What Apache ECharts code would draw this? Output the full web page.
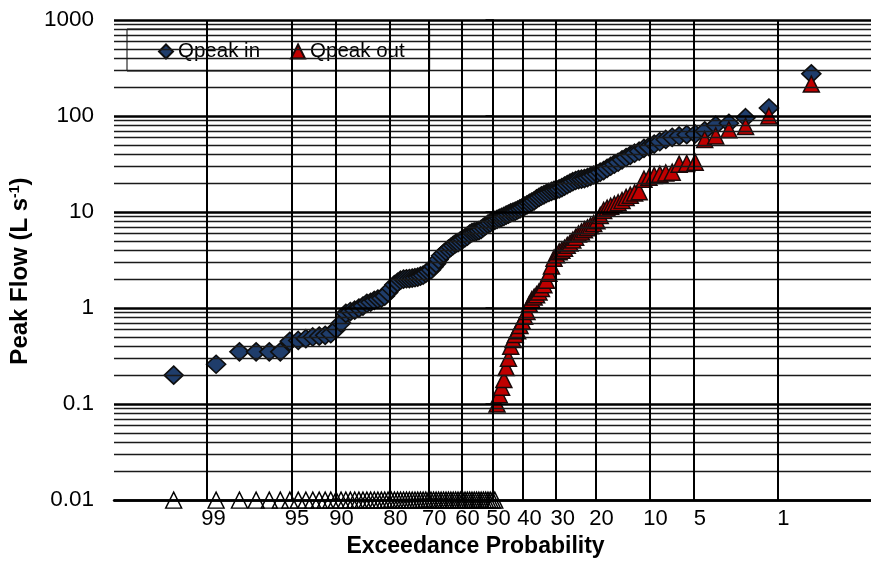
<!DOCTYPE html>
<html><head><meta charset="utf-8">
<script src="https://cdn.jsdelivr.net/npm/echarts@6/dist/echarts.min.js"></script>
<style>html,body{margin:0;padding:0;background:#fff}#c{width:871px;height:563px}</style>
</head><body><div id="c"></div>
<script>
// Peak flows (L s-1), sorted ascending (smallest first)
const qpeakIn = [
  0.20, 0.26, 0.35, 0.35, 0.35, 0.35, 0.45, 0.46, 0.48, 0.50,
  0.51, 0.52, 0.54, 0.60, 0.70, 0.88, 0.92, 0.95, 1.00, 1.05,
  1.12, 1.15, 1.20, 1.24, 1.27, 1.33, 1.45, 1.60, 1.75, 1.85,
  1.95, 2.00, 2.02, 2.03, 2.05, 2.07, 2.10, 2.15, 2.20, 2.30,
  2.40, 2.50, 2.70, 2.90, 3.20, 3.50, 3.70, 3.90, 4.10, 4.30,
  4.50, 4.70, 4.80, 5.00, 5.20, 5.40, 5.60, 5.90, 6.10, 6.20,
  6.30, 6.40, 6.60, 6.90, 7.20, 7.50, 7.70, 8.00, 8.20, 8.40,
  8.60, 8.80, 9.00, 9.30, 9.50, 9.80, 10.0, 10.2, 10.5, 10.8,
  11.1, 11.5, 11.9, 12.3, 12.7, 13.1, 13.7, 14.2, 14.7, 15.1,
  15.6, 16.0, 16.4, 16.8, 17.1, 17.4, 18.0, 18.6, 19.3, 20.0,
  20.7, 21.3, 21.8, 22.0, 22.3, 22.8, 23.5, 24.3, 25.0, 26.0,
  27.0, 28.5, 30.0, 31.5, 33.0, 35.0, 37.0, 39.0, 41.0, 43.0,
  46.0, 48.0, 51.0, 54.0, 57.0, 60.0, 62.0, 64.0, 65.0, 70.0,
  80.0, 84.0, 96.0, 121, 275
];
// zero outflow events (69) followed by non-zero outflows (66), ascending
const qpeakOutZeroCount = 69;
const qpeakOutNonZero = [
  0.10, 0.125, 0.15, 0.18, 0.24, 0.30, 0.40, 0.47, 0.53, 0.58,
  0.66, 0.73, 0.82, 0.92, 1.10, 1.22, 1.30, 1.38, 1.47, 1.60,
  1.75, 1.95, 2.30, 2.75, 3.30, 3.60, 3.85, 4.00, 4.20, 4.50,
  4.75, 5.10, 5.45, 5.90, 6.20, 6.55, 6.85, 7.20, 7.60, 8.10,
  9.20, 10.4, 11.0, 11.5, 12.0, 12.5, 13.2, 14.2, 15.0, 15.8,
  16.3, 22.0, 23.0, 24.0, 24.8, 25.5, 26.0, 31.5, 32.0, 33.0,
  57.0, 62.0, 72.0, 78.0, 100, 215
];
const qpeakOut = new Array(qpeakOutZeroCount).fill(0).concat(qpeakOutNonZero);

const probTicks = [99, 95, 90, 80, 70, 60, 50, 40, 30, 20, 10, 5, 1]; // exceedance %
const yMin = 0.01, yMax = 1000;
const minorFactors = [2, 3, 4, 5, 6, 7, 8, 9];
const FONT = "'Liberation Sans', Arial, sans-serif";

function normInv(p) {
  const a=[-3.969683028665376e+01,2.209460984245205e+02,-2.759285104469687e+02,1.383577518672690e+02,-3.066479806614716e+01,2.506628277459239e+00];
  const b=[-5.447609879822406e+01,1.615858368580409e+02,-1.556989798598866e+02,6.680131188771972e+01,-1.328068155288572e+01];
  const c=[-7.784894002430293e-03,-3.223964580411365e-01,-2.400758277161838e+00,-2.549732539343734e+00,4.374664141464968e+00,2.938163982698783e+00];
  const d=[7.784695709041462e-03,3.224671290700398e-01,2.445134137142996e+00,3.754408661907416e+00];
  const pl = 0.02425, ph = 1 - pl; let q, r;
  if (p < pl) { q = Math.sqrt(-2*Math.log(p)); return (((((c[0]*q+c[1])*q+c[2])*q+c[3])*q+c[4])*q+c[5])/((((d[0]*q+d[1])*q+d[2])*q+d[3])*q+1); }
  if (p <= ph) { q = p - 0.5; r = q*q; return (((((a[0]*r+a[1])*r+a[2])*r+a[3])*r+a[4])*r+a[5])*q/(((((b[0]*r+b[1])*r+b[2])*r+b[3])*r+b[4])*r+1); }
  q = Math.sqrt(-2*Math.log(1-p)); return -(((((c[0]*q+c[1])*q+c[2])*q+c[3])*q+c[4])*q+c[5])/((((d[0]*q+d[1])*q+d[2])*q+d[3])*q+1);
}
// probability-scale coordinate of an exceedance percentage
const zOf = pct => normInv(1 - pct / 100);
// Blom plotting position (exceedance %) for ascending rank j of n
const exceed = (j, n) => 100 * (1 - (j - 0.375) / (n + 0.25));

const nIn = qpeakIn.length, nOut = qpeakOut.length;
const inData = qpeakIn.map((v, i) => [zOf(exceed(i + 1, nIn)), v]);
const outData = [], zeroData = [];
qpeakOut.forEach((v, i) => {
  const x = zOf(exceed(i + 1, nOut));
  if (v > 0) outData.push([x, v]); else zeroData.push([x, yMin]);
});

const tickZ = probTicks.map(zOf);
const vLines = tickZ.map(z => ({ xAxis: z, lineStyle: { color: '#000', width: 2, type: 'solid' } }));
const hLines = [];
for (let k = -2; k <= 3; k++) {
  hLines.push({ yAxis: Math.pow(10, k), lineStyle: { color: '#000', width: 2.5, type: 'solid' } });
  if (k < 3) minorFactors.forEach(f => hLines.push({ yAxis: +(f * Math.pow(10, k)).toPrecision(3), lineStyle: { color: '#1a1a1a', width: 1.3, type: 'solid' } }));
}

const chart = echarts.init(document.getElementById('c'), null, { renderer: 'canvas' });
chart.setOption({
  animation: false,
  backgroundColor: '#fff',
  textStyle: { fontFamily: FONT },
  grid: { left: 110, top: 20, right: -9, bottom: 60, containLabel: false },
  legend: {
    data: ['Qpeak in', 'Qpeak out'],
    left: 127, top: 29,
    padding: [12, 25, 9, 31],
    itemGap: 30, itemWidth: 14, itemHeight: 14,
    backgroundColor: '#fff', borderColor: '#000', borderWidth: 1,
    textStyle: { fontSize: 20.5, color: '#000', fontFamily: FONT },
    selectedMode: false
  },
  xAxis: {
    type: 'value',
    min: zOf(99.9), max: zOf(0.1),
    name: 'Exceedance Probability',
    nameLocation: 'middle', nameGap: 32,
    nameTextStyle: { fontSize: 23, fontWeight: 'bold', color: '#000', fontFamily: FONT, padding: [0, 34, 0, 0] },
    axisLine: { show: true, onZero: false, lineStyle: { color: '#000', width: 2.5 } },
    axisTick: { show: false },
    splitLine: { show: false },
    axisLabel: {
      customValues: tickZ,
      fontSize: 22, color: '#000', fontFamily: FONT, margin: 8,
      padding: [0, 0, 0, 12],
      formatter: v => {
        let best = 0, bd = Infinity;
        tickZ.forEach((z, i) => { const d = Math.abs(z - v); if (d < bd) { bd = d; best = i; } });
        return String(probTicks[best]);
      }
    }
  },
  yAxis: {
    type: 'log', logBase: 10, min: yMin, max: yMax,
    name: '{t|Peak Flow (L s}{s|-1}{t|)}',
    nameLocation: 'middle', nameGap: 82, nameRotate: 90,
    nameTextStyle: {
      padding: [0, 22, 0, 0],
      rich: {
        t: { fontSize: 24, fontWeight: 'bold', color: '#000', fontFamily: FONT },
        s: { fontSize: 14, fontWeight: 'bold', color: '#000', fontFamily: FONT, verticalAlign: 'top' }
      }
    },
    axisLine: { show: true, lineStyle: { color: '#000', width: 2 } },
    axisTick: { show: true, length: 7, lineStyle: { color: '#000', width: 1.5 } },
    splitLine: { show: false },
    minorTick: { show: false },
    axisLabel: {
      fontSize: 22.5, color: '#000', fontFamily: FONT, margin: 20,
      formatter: v => String(+(+v).toPrecision(4))
    }
  },
  series: [
    {
      name: 'grid', type: 'scatter', data: [], z: 1, silent: true,
      markLine: { silent: true, symbol: ['none', 'none'], label: { show: false }, animation: false,
        data: hLines.concat(vLines) }
    },
    {
      name: 'Qpeak in', type: 'scatter', symbol: 'diamond', symbolSize: [19, 18], z: 3, clip: false,
      itemStyle: { color: '#1F3D6B', borderColor: '#0e0e0e', borderWidth: 1.6, opacity: 1 },
      data: inData
    },
    {
      name: 'Qpeak out = 0', type: 'scatter', symbol: 'triangle', symbolSize: 16, z: 3, clip: false,
      itemStyle: { color: 'rgba(0,0,0,0)', borderColor: '#000', borderWidth: 1.4, opacity: 1 },
      data: zeroData
    },
    {
      name: 'Qpeak out', type: 'scatter', symbol: 'triangle', symbolSize: 16, z: 4, clip: false,
      itemStyle: { color: '#C00000', borderColor: '#1a0a0a', borderWidth: 1.5, opacity: 1 },
      data: outData
    }
  ]
});
</script>
</body></html>
